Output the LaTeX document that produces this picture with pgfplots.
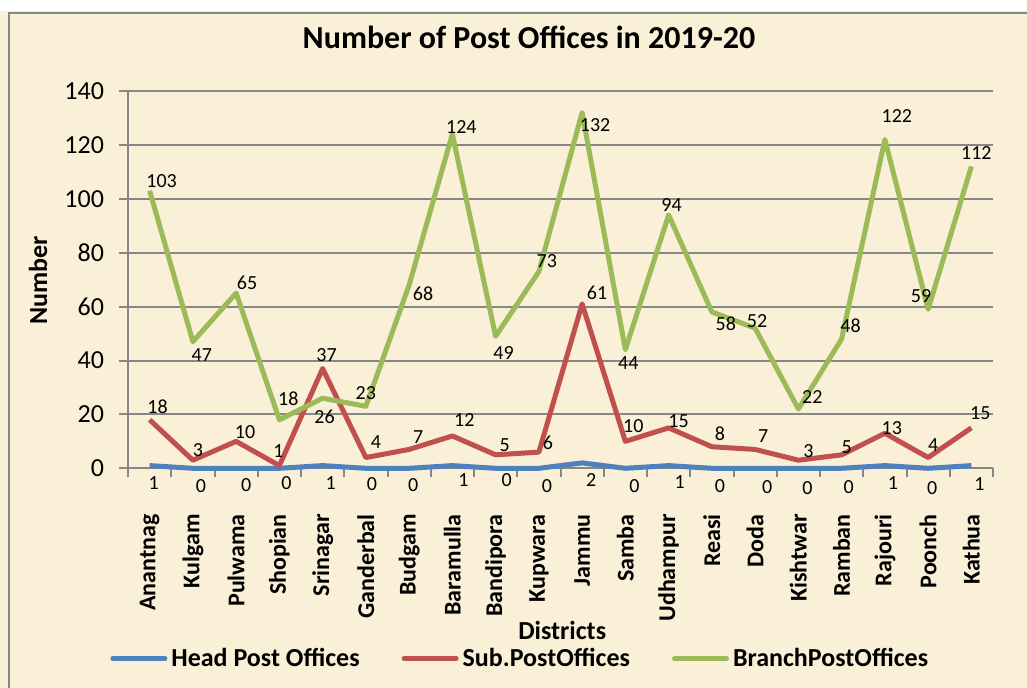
\documentclass[border=0pt]{standalone}
\usepackage{pgfplots}
\usepackage{pgfplotstable}
\pgfplotsset{compat=1.18}
\usepackage{fontspec}
\setmainfont{Carlito}

\definecolor{headc}{HTML}{4F81BD}
\definecolor{subc}{HTML}{C0504D}
\definecolor{branchc}{HTML}{9BBB59}
\definecolor{paper}{HTML}{FAEFD7}
\definecolor{gridc}{HTML}{878787}

% x = district index, y = value, dx/dy = label offset in pixels (down is +)
\pgfplotstableread{
x y dx dy
0 1 4 17
1 0 8 18
2 0 10 17
3 0 7 15
4 1 8 17
5 0 6 16
6 0 4 17
7 1 11 14
8 0 11 12
9 0 8 18
10 2 9 17
11 0 9 18
12 1 11 16
13 0 8 18
14 0 12 19
15 0 9 20
16 0 7 19
17 1 8 17
18 0 4 20
19 1 8 18
}\headdata

\pgfplotstableread{
x y dx dy
0 18 8 -13
1 3 5 -10
2 10 9 -9
3 1 -1 -15
4 37 4 -14
5 4 10 -15
6 7 9 -12
7 12 12 -16
8 5 9 -10
9 6 9 -9
10 61 15 -11
11 10 8 -15
12 15 10 -7
13 8 8 -13
14 7 8 -13
15 3 10 -9
16 5 5 -8
17 13 7 -5
18 4 5 -12
19 15 9 -15
}\subdata

\pgfplotstableread{
x y dx dy
0 103 12 -10
1 47 9 13
2 65 11 -10
3 18 9 -21
4 26 2 19
5 23 0 -13
6 68 14 9
7 124 9 -7
8 49 8 17
9 73 8 -10
10 132 13 13
11 44 3 13
12 94 3 -10
13 58 14 12
14 52 2 -7
15 22 14 -12
16 48 9 -13
17 122 12 -23
18 59 -7 -13
19 112 5 -13
}\branchdata

\pgfplotsset{
  lbl/.style={
    nodes near coords,
    visualization depends on={\thisrow{dx} \as \dx},
    visualization depends on={\thisrow{dy} \as \dy},
    every node near coord/.append style={anchor=center, inner sep=0pt,
      xshift=\dx*0.5pt, yshift=\dy*(-0.5pt), text=black,
      font=\fontsize{10}{12}\selectfont}
  }
}

\begin{document}
\begin{tikzpicture}
  \useasboundingbox (0,0) rectangle (513.5pt,-344pt);
  \fill[paper] (0,0) rectangle (513.5pt,-344pt);
  \fill[white] (0,0) rectangle (513.5pt,-5.5pt);
  \draw[gridc, line width=0.9pt] (4.5pt,-344pt) -- (4.5pt,-6.5pt) -- (513.5pt,-6.5pt);

  \begin{axis}[
    at={(64pt,-234.15pt)}, anchor=south west,
    scale only axis,
    width=432.5pt, height=188.65pt,
    clip=false,
    xmin=-0.5, xmax=19.5,
    ymin=0, ymax=140,
    ytick={0,20,...,140},
    xtick={-0.5,0.5,...,19.5},
    x tick label as interval,
    xticklabels={Anantnag,Kulgam,Pulwama,Shopian,Srinagar,Ganderbal,Budgam,Baramulla,Bandipora,Kupwara,Jammu,Samba,Udhampur,Reasi,Doda,Kishtwar,Ramban,Rajouri,Poonch,Kathua},
    xticklabel style={rotate=90, anchor=east, font=\bfseries\fontsize{12}{14}\selectfont},
    xticklabel shift=15pt,
    yticklabel style={font=\fontsize{13}{15}\selectfont, xshift=-4pt},
    /pgf/number format/assume math mode=true,
    axis x line*=bottom, axis y line*=left,
    axis line style={gridc, line width=1pt},
    tick style={gridc, line width=1pt},
    tick align=outside,
    major tick length=4.5pt,
    ymajorgrids,
    grid style={gridc, line width=1pt},
    title={Number of Post Offices in 2019-20},
    title style={font=\bfseries\fontsize{16}{18}\selectfont, at={(0.4636,1.11)}, anchor=center},
    ylabel={Number},
    ylabel style={font=\bfseries\fontsize{13}{15}\selectfont, at={(-0.104,0.499)}, anchor=center},
    xlabel={Districts},
    xlabel style={font=\bfseries\fontsize{13}{15}\selectfont, at={(0.502,-0.43)}, anchor=center},
    legend columns=3,
    legend style={draw=none, fill=none, inner sep=0pt,
      at={(-0.0208,-0.504)}, anchor=west,
      font=\bfseries\fontsize{13}{15}\selectfont,
      nodes={inner xsep=2pt},
      /tikz/every even column/.append style={column sep=19pt}},
    legend image code/.code={\draw[#1, line cap=round] (0pt,0pt) -- (26pt,0pt);},
  ]
    \addplot[headc, line width=2.5pt, line join=round, lbl] table[x=x, y=y] {\headdata};
    \addlegendentry{Head Post Offices}
    \addplot[subc, line width=2.5pt, line join=round, lbl] table[x=x, y=y] {\subdata};
    \addlegendentry{Sub.PostOffices}
    \addplot[branchc, line width=2.5pt, line join=round, lbl] table[x=x, y=y] {\branchdata};
    \addlegendentry{BranchPostOffices}
  \end{axis}
\end{tikzpicture}
\end{document}
